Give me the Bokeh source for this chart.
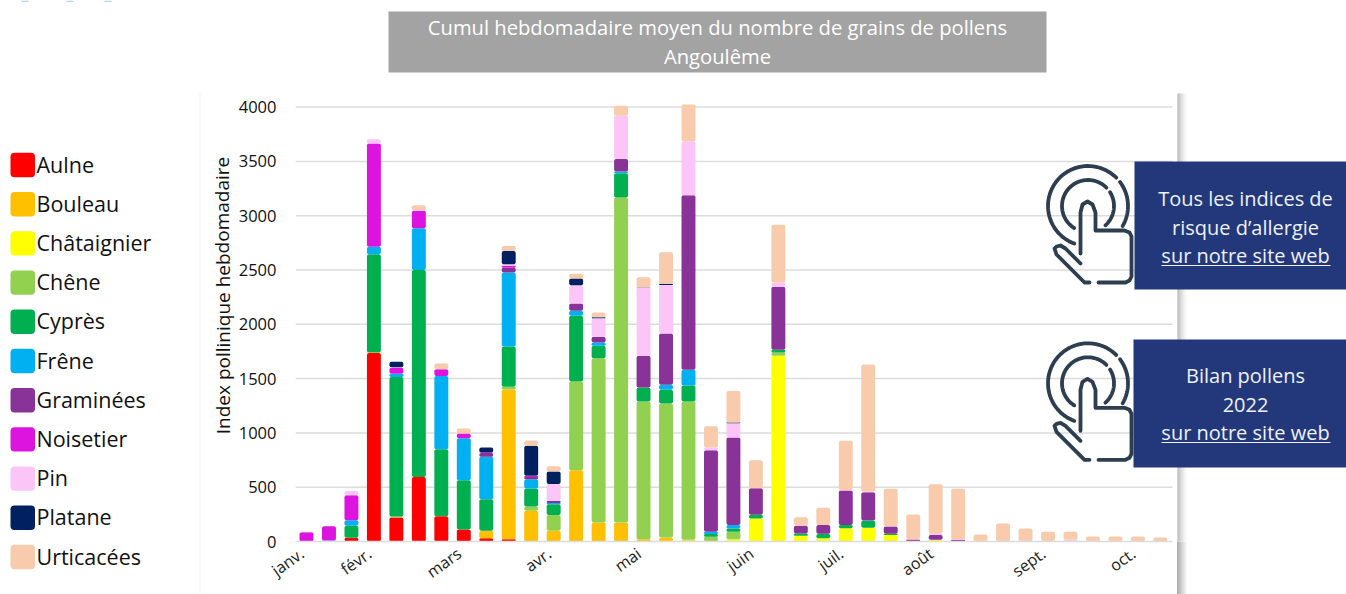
import numpy as np
from bokeh.core.properties import value
from bokeh.embed import file_html
from bokeh.layouts import column, row
from bokeh.models import ColumnDataSource, FixedTicker, Range1d
from bokeh.plotting import figure
from bokeh.resources import INLINE

semaines = list(range(1, 40))
especes = ["Aulne", "Bouleau", "Châtaignier", "Chêne", "Cyprès", "Frêne", "Graminées", "Noisetier", "Pin", "Platane", "Urticacées"]
couleurs = ["#ff0000", "#ffc000", "#ffff00", "#92d050", "#00b050", "#00b0f0", "#893399", "#dd14e0", "#fcc5f8", "#002060", "#f8cbad"]

aulne =       [0,0,35,1735,220,595,233,110,30,20,0,0,0,0,0,0,0,0,0,0,0,0,0,0,0,0,0,0,0,0,0,0,0,0,0,0,0,0,0]
bouleau =     [0,0,0,5,0,0,0,0,68,1380,282,98,657,175,175,21,37,12,0,0,0,0,0,0,0,0,0,0,0,0,0,0,0,0,0,0,0,0,0]
chataignier = [0,0,0,0,0,0,0,0,0,0,0,0,0,0,0,0,0,5,0,20,212,1710,52,31,123,126,61,0,15,0,0,0,0,0,0,0,0,0,0]
chene =       [0,0,0,0,10,0,0,0,0,24,40,147,816,1513,2993,1268,1234,1272,43,69,0,30,0,0,0,0,0,0,0,0,0,0,0,0,0,0,0,0,0]
cypres =      [0,0,110,905,1285,1905,617,455,292,371,166,99,605,114,224,129,126,147,25,31,34,25,22,37,30,64,10,0,0,0,0,0,0,0,0,0,0,0,0]
frene =       [0,10,50,70,30,385,675,386,390,682,86,10,46,30,15,0,46,145,21,33,0,0,0,3,0,3,0,0,0,0,0,0,0,0,0,0,0,0,0]
graminees =   [0,0,0,0,0,0,0,0,35,46,20,22,67,53,114,292,472,1608,752,805,245,580,70,82,317,261,67,18,46,15,0,0,0,5,5,0,0,0,0]
noisetier =   [85,130,230,950,55,160,60,44,5,15,10,0,0,0,0,0,0,0,0,0,0,0,0,0,0,0,0,0,0,0,0,0,0,0,0,0,0,0,0]
pin =         [5,0,40,40,5,5,0,0,0,16,2,153,169,171,399,629,448,494,25,132,0,40,3,0,5,5,3,5,10,5,0,0,0,0,10,0,0,0,0]
platane =     [0,0,0,0,50,0,0,0,45,122,275,116,62,8,0,3,10,0,0,5,0,0,0,0,0,0,0,0,0,0,0,0,0,0,0,0,0,0,0]
urticacees =  [0,0,0,0,0,47,53,45,0,44,50,47,43,45,92,92,291,341,196,290,258,531,77,157,452,1170,344,226,457,465,64,166,120,84,74,46,46,46,37]

mois_semaine = [0.8, 3.8, 7.8, 11.8, 15.8, 20.8, 24.8, 28.8, 33.8, 37.8]
mois = ["janv.", "févr.", "mars", "avr.", "mai", "juin", "juil.", "août", "sept.", "oct."]
y_ticks = [0, 500, 1000, 1500, 2000, 2500, 3000, 3500, 4000]
titre = ["Cumul hebdomadaire moyen du nombre de grains de pollens", "Angoulême"]
encart1 = ["Tous les indices de", "risque d’allergie", "sur notre site web"]
encart2 = ["Bilan pollens", "2022", "sur notre site web"]
axe_y = "Index pollinique hebdomadaire"

FONT = "Open Sans"
W, H = 1346, 594
SPLIT = 235                # width of the legend column
L, R, T, B = 295, 1346, 0, 541
X0, DX = 306.0, 22.47      # page x of first bar, bar step
PXY = 0.1086               # page px per unit
x_range = Range1d(1 + (L - X0) / DX, 1 + (R - X0) / DX)
y_range = Range1d(0, (B - T) / PXY)

# ---- left column: legend and y-axis title
g = figure(width=SPLIT, height=H, x_range=Range1d(0, SPLIT), y_range=Range1d(H, 0), x_axis_type=None, y_axis_type=None,
           output_backend="svg", toolbar_location=None, min_border=0, outline_line_color=None,
           background_fill_color="white", border_fill_color="white")
g.xgrid.visible = False
g.ygrid.visible = False
ly = [164.5 + 39.2 * i for i in range(len(especes))]
g.quad(left=[10] * 11, right=[34.5] * 11, top=[y - 12.2 for y in ly], bottom=[y + 12.2 for y in ly], fill_color=couleurs,
       line_color=None, border_radius=4)
g.text(x=[36] * 11, y=[y - 1 for y in ly], text=especes, text_font=value(FONT), text_font_size="21.5px",
       text_color="#111111", text_align="left", text_baseline="middle")
g.text(x=[222], y=[295], text=[axe_y], angle=[np.pi / 2], text_font=value(FONT), text_font_size="19px",
       text_color="#111111", text_align="center", text_baseline="middle")
g.quad(left=[21, 66, 104], right=[28, 73, 111], top=[0] * 3, bottom=[1.5] * 3, fill_color="#a9dcec", line_color=None)
g.segment(x0=[199.5], x1=[199.5], y0=[92], y1=[H], line_color="#f4f4f4", line_width=1)

# ---- main chart
p = figure(width=W - SPLIT, height=H, x_range=x_range, y_range=y_range, output_backend="svg",
           toolbar_location=None, min_border_left=L - SPLIT, min_border_right=0,
           min_border_top=0, min_border_bottom=H - B, outline_line_color=None,
           background_fill_color="white", border_fill_color="white", border_fill_alpha=0)
# the sheet's shadow continues under the plot frame, beside the month labels
p.styles = {"background": f"linear-gradient(to right,#a9a9a9,#fdfdfd) {1177 - SPLIT}px {B}px / 10px {H - B}px no-repeat"}
p.extra_x_ranges["px"] = Range1d(L, R)
p.extra_y_ranges["px"] = Range1d(B, T)
PX = dict(x_range_name="px", y_range_name="px")

grid_end = 1 + (1172 - X0) / DX
p.xgrid.visible = False
p.ygrid.visible = False
p.segment(x0=[x_range.start] * len(y_ticks[1:]), x1=[grid_end] * len(y_ticks[1:]), y0=y_ticks[1:], y1=y_ticks[1:],
          line_color="#dcdcdc", line_width=1.5, level="underlay")

src = ColumnDataSource(dict(semaine=semaines, Aulne=aulne, Bouleau=bouleau, Châtaignier=chataignier, Chêne=chene,
                            Cyprès=cypres, Frêne=frene, Graminées=graminees, Noisetier=noisetier, Pin=pin,
                            Platane=platane, Urticacées=urticacees))
rs = p.vbar_stack(especes, x="semaine", width=0.62, color=couleurs, source=src, line_color=None, border_radius=2)

ya = p.yaxis[0]
ya.ticker = FixedTicker(ticks=y_ticks)
ya.bounds = (0, 4000)
ya.axis_line_color = None
ya.major_tick_line_color = None
ya.minor_tick_line_color = None
ya.major_tick_out = 0
ya.major_tick_in = 0
ya.minor_tick_out = 0
ya.minor_tick_in = 0
ya.major_label_text_font = FONT
ya.major_label_text_font_size = "16.5px"
ya.major_label_text_color = "#111111"
ya.major_label_standoff = 19

xa = p.xaxis[0]
xa.ticker = FixedTicker(ticks=mois_semaine)
xa.major_label_overrides = dict(zip(mois_semaine, mois))
xa.bounds = (x_range.start, grid_end)
xa.axis_line_color = "#dcdcdc"
xa.axis_line_width = 1.5
xa.major_tick_line_color = None
xa.minor_tick_line_color = None
xa.major_tick_out = 0
xa.major_tick_in = 0
xa.minor_tick_out = 0
xa.minor_tick_in = 0
xa.major_label_orientation = 0.62
xa.major_label_standoff = 10
xa.major_label_text_font = FONT
xa.major_label_text_font_size = "16px"
xa.major_label_text_color = "#222222"

# right-hand shadow of the chart sheet
for i, c in enumerate(["#a9a9a9", "#b4b4b4", "#c0c0c0", "#cbcbcb", "#d6d6d6", "#e0e0e0", "#e9e9e9", "#f1f1f1", "#f7f7f7", "#fcfcfc"]):
    p.segment(x0=[1177.5 + i], x1=[1177.5 + i], y0=[93], y1=[B], line_color=c, line_width=1, **PX)

# title box
p.quad(left=[388], right=[1046], top=[11], bottom=[72], fill_color="#a3a3a3", line_color=None, **PX)
p.text(x=[717, 717], y=[26, 55], text=titre, text_color="white", text_font=value(FONT), text_font_size="20.2px",
       text_align="center", text_baseline="middle", **PX)

def panneau(left, top, lignes, ys, yu):
    p.quad(left=[left], right=[R], top=[top], bottom=[top + 128], fill_color="#22387a", line_color=None, **PX)
    p.text(x=[1245] * 3, y=ys, text=lignes, text_color="#eef1f8", text_font=value(FONT), text_font_size="20px",
           text_align="center", text_baseline="middle", **PX)
    p.segment(x0=[1161], x1=[1330], y0=[yu], y1=[yu], line_color="#eef1f8", line_width=1.2, **PX)

def arc(cx, cy, r, a0, a1):
    t = np.radians(np.linspace(a0, a1, 50))
    return cx + r * np.cos(t), cy - r * np.sin(t)

def icone(dy):
    kw = dict(line_color="#2c3e50", line_width=3.8, line_cap="round", line_join="round", **PX)
    cx, cy = 1087.5, 205.5 + dy
    for r, a0, a1 in [(40, 250, 45), (40, 37, -30), (26, 238, 45), (26, 32, -48)]:
        xs, ys = arc(cx, cy, r, a0, a1)
        p.line(xs, ys, **kw)
    main = [(1080, 253), (1080, 212), (1082, 204), (1087, 201), (1092, 204), (1095, 212), (1095, 230),
            (1124, 230), (1129, 232), (1131, 236), (1131, 276), (1129, 280), (1125, 282), (1098, 282)]
    p.line([a for a, _ in main], [b + dy for _, b in main], **kw)
    pouce = [(1089, 282), (1084, 282), (1056, 254), (1054, 248), (1056, 246), (1060, 245), (1065, 248), (1080, 263)]
    p.line([a for a, _ in pouce], [b + dy for _, b in pouce], **kw)

panneau(1134, 161, encart1, [198, 227, 255], 265)
panneau(1133, 339, encart2, [375, 404, 432], 442)
icone(0)
icone(177.3)

open("out.html", "w").write(file_html(row(column(g), p), INLINE))
